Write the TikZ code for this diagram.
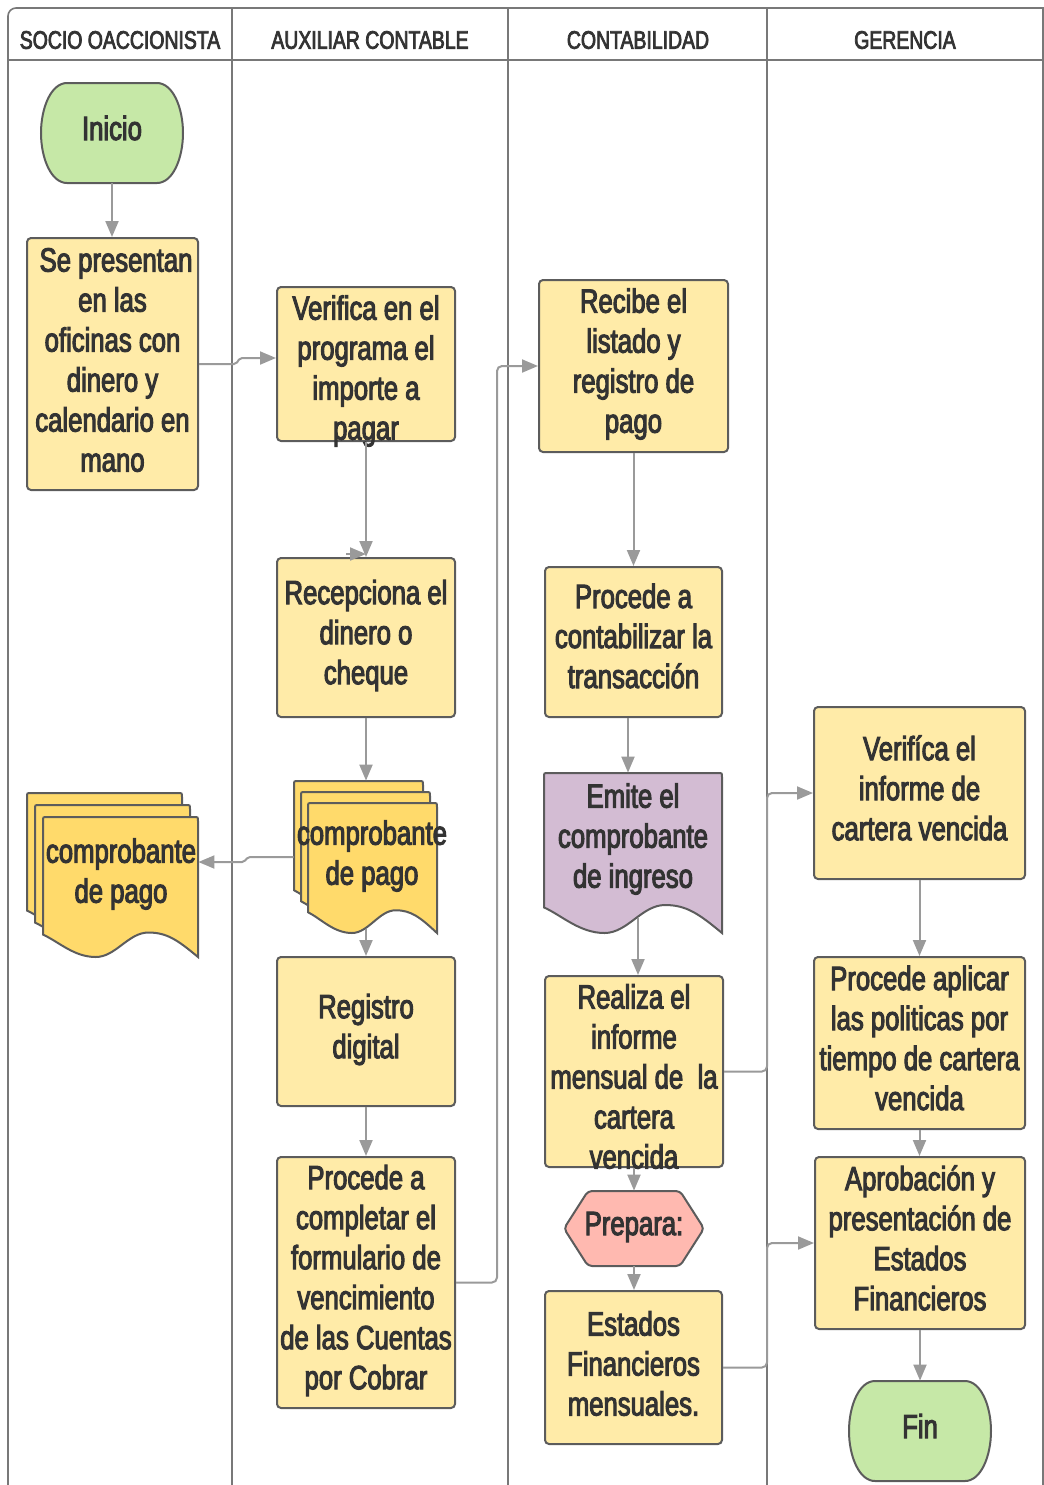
\documentclass[tikz,border=0pt]{standalone}
\usepackage{fontspec}
\setmainfont{Liberation Sans}[FakeStretch=0.765, FakeBold=3]
\usetikzlibrary{arrows.meta}
\definecolor{procfill}{HTML}{FFEBA8}
\definecolor{docfill}{HTML}{FFDA6B}
\definecolor{termfill}{HTML}{C6E8A7}
\definecolor{docpurple}{HTML}{D3BCD3}
\definecolor{hexfill}{HTML}{FFB9B0}
\definecolor{bordercol}{HTML}{5C5C5C}
\definecolor{conncol}{HTML}{9A9A9A}
\definecolor{lanecol}{HTML}{787878}
\definecolor{textcol}{HTML}{333333}
\newcommand\docshape[5]{%
  \pgfmathsetmacro\dcW{#3-#1}%
  \pgfmathsetmacro\dcH{#4-#2}%
  \draw[shapeline, fill=#5] (#1,#4-0.16*\dcH) -- (#1,#2+4) .. controls (#1,#2) .. (#1+4,#2)
    -- (#3-4,#2) .. controls (#3,#2) .. (#3,#2+4) -- (#3,#4)
    .. controls (#3-0.13*\dcW,#4-0.12*\dcH) and (#3-0.2*\dcW,#4-0.175*\dcH) .. (#3-0.32*\dcW,#4-0.175*\dcH)
    .. controls (#3-0.45*\dcW,#4-0.175*\dcH) and (#3-0.53*\dcW,#4) .. (#3-0.66*\dcW,#4)
    .. controls (#3-0.8*\dcW,#4) and (#3-0.9*\dcW,#4-0.11*\dcH) .. (#1,#4-0.16*\dcH) -- cycle;}
\newcommand\termshape[2]{%
  \begin{scope}[shift={(#1,#2)}]
  \draw[shapeline, fill=termfill] (-45,-50) -- (45,-50) .. controls (61,-50) and (71,-25) .. (71,0)
    .. controls (71,25) and (61,50) .. (45,50) -- (-45,50) .. controls (-61,50) and (-71,25) .. (-71,0)
    .. controls (-71,-25) and (-61,-50) .. (-45,-50) -- cycle;
  \end{scope}}
\begin{document}
\begin{tikzpicture}[x=0.5pt,y=-0.5pt,
  lane/.style={draw=lanecol, line width=0.8pt},
  shapeline/.style={draw=bordercol, line width=1pt},
  txt/.style={align=center, text=textcol, inner sep=0pt, font=\fontsize{16.8}{20}\selectfont},
  box/.style={draw=bordercol, fill=procfill, line width=1pt, rounded corners=2pt, inner sep=0pt},
  hole/.style={inner sep=0pt},
  head/.style={text=textcol, inner sep=0pt, font=\fontsize{12.7}{15}\selectfont},
  conn/.style={draw=conncol, line width=1pt, rounded corners=2.5pt, -{Triangle[length=8pt,width=6.5pt]}},
]
\useasboundingbox (0,0) rectangle (1044,1485);
% lanes
\draw[lane] (8,1490) [rounded corners=4pt]-- (8,8) [sharp corners]-- (1043,8) -- (1043,1490);
\draw[lane, line width=1.1pt] (8,60) -- (1043,60);
\draw[lane] (232,8) -- (232,1490);
\draw[lane] (508,8) -- (508,1490);
\draw[lane] (767,8) -- (767,1490);
\node[head] (h1) at (120,40) {SOCIO OACCIONISTA};
\node[head] (h2) at (370,40) {AUXILIAR CONTABLE};
\node[head] (h3) at (638,40) {CONTABILIDAD};
\node[head] (h4) at (905,40) {GERENCIA};
% terminals
\termshape{112}{133}
\node[hole, minimum width=71pt, minimum height=50pt] (ini) at (112,133) {};
\node[txt] (init) at (112,128) {Inicio};
\termshape{920}{1431}
\node[hole, minimum width=71pt, minimum height=50pt] (fin) at (920,1431) {};
\node[txt] (fint) at (920,1426) {Fin};
% process boxes
\node[box, minimum width=85.5pt, minimum height=126pt] (sep) at (112.5,364) {};
\node[txt] (sept) at (112.5,360) {\ Se presentan\\en las\\oficinas con\\dinero y\\calendario en\\mano};
\node[box, minimum width=89pt, minimum height=77pt] (ver) at (366,364) {};
\node[txt] (vert) at (366,371) {Verifica en el\\programa el\\importe a\\pagar};
\node[box, minimum width=89pt, minimum height=79.5pt] (rec) at (366,637.5) {};
\node[txt] (rect) at (366,635.5) {Recepciona el\\dinero o\\cheque};
\node[box, minimum width=89pt, minimum height=74.5pt] (reg) at (366,1031.5) {};
\node[txt] (regt) at (366,1029.5) {Registro\\digital};
\node[box, minimum width=89pt, minimum height=125.5pt] (com) at (366,1282.5) {};
\node[txt] (comt) at (366,1280.5) {Procede a\\completar el\\formulario de\\vencimiento\\de las Cuentas\\por Cobrar};
\node[box, minimum width=94.5pt, minimum height=86pt] (rcb) at (633.5,366) {};
\node[txt] (rcbt) at (633.5,364) {Recibe el\\listado y\\registro de\\pago};
\node[box, minimum width=88.5pt, minimum height=75pt] (cnt) at (633.5,642) {};
\node[txt] (cntt) at (633.5,636) {Procede a\\contabilizar la\\transacción};
\node[box, minimum width=89pt, minimum height=95.5pt] (rea) at (634,1071.5) {};
\node[txt] (reat) at (634,1076.5) {Realiza el\\informe\\mensual de~~la\\cartera\\vencida};
\node[box, minimum width=88.5pt, minimum height=76.5pt] (est) at (633.5,1367.5) {};
\node[txt] (estt) at (633.5,1363.5) {Estados\\Financieros\\mensuales.};
\node[box, minimum width=105.5pt, minimum height=86pt] (vin) at (919.5,793) {};
\node[txt] (vint) at (919.5,788) {Verifíca el\\informe de\\cartera vencida};
\node[box, minimum width=105.5pt, minimum height=86pt] (apl) at (919.5,1043) {};
\node[txt] (aplt) at (919.5,1038) {Procede aplicar\\las politicas por\\tiempo de cartera\\vencida};
\node[box, minimum width=105pt, minimum height=86pt] (apr) at (920,1243) {};
\node[txt] (aprt) at (920,1238) {Aprobación y\\presentación de\\Estados\\Financieros};
% document stacks
\docshape{27}{793}{182}{933}{docfill}
\docshape{35}{805}{190}{945}{docfill}
\docshape{43}{817}{198}{957}{docfill}
\node[hole, minimum width=85.5pt, minimum height=82pt] (cpl) at (112.5,875) {};
\node[txt] (cplt) at (121,874) {comprobante\\de pago};
\docshape{294}{781}{423}{911}{docfill}
\docshape{301}{792}{430}{922}{docfill}
\docshape{308}{803}{437}{933}{docfill}
\node[hole, minimum width=71.5pt, minimum height=76pt] (cpm) at (365.5,857) {};
\node[txt] (cpmt) at (372,856) {comprobante\\de pago};
% emite document
\docshape{544}{773}{722}{933}{docpurple}
\node[hole, minimum width=89pt, minimum height=80pt] (emi) at (633,853) {};
\node[txt] (emit) at (633,839) {Emite el\\comprobante\\de ingreso};
% hexagon
\draw[shapeline, fill=hexfill, rounded corners=2pt] (564,1228.5) -- (588,1191) -- (680,1191) -- (704,1228.5) -- (680,1266) -- (588,1266) -- cycle;
\node[hole, minimum width=70pt, minimum height=37.5pt] (prep) at (634,1228.5) {};
\node[txt] (prept) at (634,1227) {Prepara:};
% connector helper coordinates
\coordinate (j2a) at (236,364);
\coordinate (j2b) at (240,358);
\coordinate (j5a) at (248,857);
\coordinate (j5b) at (244,862);
\coordinate (j8) at (497,0);
\coordinate (j14) at (767,0);
% connectors
\draw[conn] (ini.south) -- (ini.south |- sep.north);
\draw[conn, rounded corners=1pt] (sep.east |- j2a) -- (j2a) -- (j2b) -- (ver.west |- j2b);
\draw[conn] (ver.south) -- (rec.north);
\draw[conn] ([xshift=-10pt,yshift=1.5pt]rec.north) -- ([yshift=1.5pt]rec.north);
\draw[conn] (rec.south) -- (rec.south |- cpm.north);
\draw[conn, rounded corners=1pt] (cpm.west) -- (j5a) -- (j5b) -- (cpl.east |- j5b);
\draw[conn] ([yshift=2pt]cpm.south -| reg.north) -- (reg.north);
\draw[conn] (reg.south) -- (com.north);
\draw[conn] (com.east) -- (com.east -| j8) -- (j8 |- rcb.west) -- (rcb.west);
\draw[conn] (rcb.south) -- (cnt.north);
\draw[conn] ([xshift=-2.75pt]cnt.south) -- ([xshift=-2.75pt]cnt.south |- emi.north);
\draw[conn] ([xshift=2.5pt,yshift=7.5pt]emi.south) -- ([xshift=2.5pt]emi.south |- rea.north);
\draw[conn] (rea.south) -- (rea.south |- prep.north);
\draw[conn] (prep.south) -- (prep.south |- est.north);
\draw[conn] (rea.east) -- (rea.east -| j14) -- (j14 |- vin.west) -- (vin.west);
\draw[conn] (est.east) -- (est.east -| j14) -- (j14 |- apr.west) -- (apr.west);
\draw[conn] (vin.south) -- (apl.north);
\draw[conn] (apl.south) -- (apl.south |- apr.north);
\draw[conn] (apr.south) -- (apr.south |- fin.north);
\end{tikzpicture}
\end{document}
